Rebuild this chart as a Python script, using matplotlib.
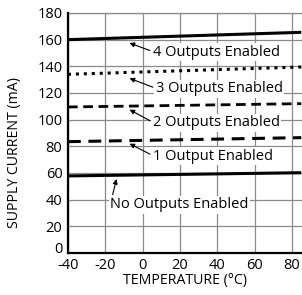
import matplotlib
matplotlib.use("Agg")
import matplotlib.pyplot as plt
from matplotlib.transforms import ScaledTranslation

# temperature (°C) and supply current (mA)
temp = [-40, 85]
no_outputs = [57.8, 60.2]
one_output = [83.5, 86.5]
two_outputs = [109.5, 112.0]
three_outputs = [134.0, 139.5]
four_outputs = [160.0, 165.5]

labels = ["4 Outputs Enabled", "3 Outputs Enabled", "2 Outputs Enabled",
          "1 Output Enabled", "No Outputs Enabled"]
# arrow tip (x, y) under each line and text start (x, y) in data units
arrow_tips = [(-7, 157.5), (-7, 131), (-7, 107.5), (-7, 82), (-14, 55.5)]
text_pos = [(5.4, 150.5), (7, 123), (5.4, 97.5), (5.4, 72.5), (-17.3, 36)]
x_ticks = [-40, -20, 0, 20, 40, 60, 80]
y_ticks = [0, 20, 40, 60, 80, 100, 120, 140, 160, 180]


def main():
    plt.rcParams["font.family"] = ["Open Sans", "DejaVu Sans"]
    plt.rcParams["axes.unicode_minus"] = False
    fig = plt.figure(figsize=(3.02, 2.95), dpi=100)
    ax = fig.add_axes([0.225, 0.1424, 0.775, 0.8136])

    ax.plot(temp, four_outputs, color="black", lw=2.2, solid_capstyle="butt")
    ax.plot(temp, three_outputs, color="black", lw=2.2, linestyle=(0, (1, 1.6)))
    ax.plot(temp, two_outputs, color="black", lw=2.0, linestyle=(0, (3.5, 2)))
    ax.plot(temp, one_output, color="black", lw=2.2, linestyle=(0, (4.2, 2.5)))
    ax.plot(temp, no_outputs, color="black", lw=2.2, solid_capstyle="butt")

    for lab, tip, pos in zip(labels, arrow_tips, text_pos):
        ax.annotate(lab, xy=tip, xytext=pos, fontsize=10.5, va="center",
                    ha="left",
                    bbox=dict(facecolor="white", edgecolor="none", pad=1),
                    arrowprops=dict(arrowstyle="-|>", color="black", lw=0.8,
                                    mutation_scale=7, shrinkA=1, shrinkB=0,
                                    relpos=(0, 0.55)))

    ax.set_xlim(-40, 85.4)
    ax.set_ylim(0, 180)
    ax.set_xticks(x_ticks)
    ax.set_yticks(y_ticks)
    ax.tick_params(length=0, labelsize=10.5, pad=4)
    ax.tick_params(axis="x", pad=3.5)
    ax.grid(True, color="#8a8a8a", lw=0.9)
    ax.set_axisbelow(True)

    # nudge the "0" label up so it does not touch "-40"
    zero_label = ax.get_yticklabels()[0]
    zero_label.set_transform(zero_label.get_transform()
                             + ScaledTranslation(0, 4 / 72, fig.dpi_scale_trans))

    for side in ["left", "bottom"]:
        ax.spines[side].set_linewidth(1.6)
        ax.spines[side].set_zorder(5)
    ax.spines["top"].set_color("#8a8a8a")
    ax.spines["top"].set_linewidth(0.9)
    ax.spines["right"].set_visible(False)

    ax.set_xlabel("TEMPERATURE (°C)", fontsize=10.2, labelpad=0)
    ax.set_ylabel("SUPPLY CURRENT (mA)", fontsize=10.2)
    ax.yaxis.set_label_coords(-0.195, 0.42)

    fig.savefig("out.png", dpi=100)


if __name__ == "__main__":
    main()
